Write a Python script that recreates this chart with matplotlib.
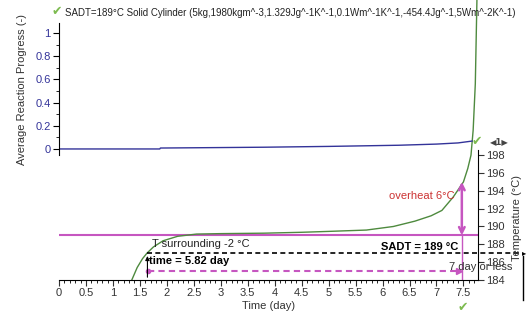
import matplotlib
matplotlib.use('Agg')
import matplotlib.pyplot as plt
from matplotlib.ticker import MultipleLocator
from matplotlib.lines import Line2D

plt.rcParams['font.family'] = ['Liberation Sans', 'DejaVu Sans']

# temperature curve (day, degC)
time_temp = [1.35, 1.45, 1.55, 1.63, 1.75, 1.93, 2.2, 2.55, 3.0, 3.8, 4.5, 5.0, 5.7,
             6.2, 6.6, 6.9, 7.1, 7.31, 7.5, 7.58, 7.64, 7.68, 7.72, 7.75]
temp = [184, 185.4, 186.4, 187.0, 187.7, 188.4, 188.9, 189.15, 189.2, 189.25, 189.35,
        189.45, 189.6, 190.0, 190.6, 191.2, 191.8, 193.3, 195.0, 196.5, 198, 200.8, 206, 215.4]

# average reaction progress (day, -)
time_prog = [0, 1.87, 1.88, 3.8, 5.0, 6.3, 7.0, 7.4, 7.66]
progress = [0, 0, 0.008, 0.015, 0.022, 0.032, 0.042, 0.052, 0.068]

sadt = 189
t_surround = 187
t_low = 185
t_start = 1.64
t_end = 7.47
overheat_top = 195

green = '#4e8a3e'
blue = '#333399'
pink = '#c656c0'
check = '#7dbb50'

fig = plt.figure(figsize=(5.3, 3.14), dpi=100)
ax_t = fig.add_axes([0.1113, 0.1083, 0.7906, 0.8917])
ax_p = fig.add_axes([0.1113, 0.5064, 0.7906, 0.4204])
for a in (ax_t, ax_p):
    a.patch.set_alpha(0)
    a.set_xlim(0, 7.77)

# temperature axes
ax_t.set_ylim(184, 215.4)
ax_t.spines['left'].set_visible(False)
ax_t.spines['top'].set_visible(False)
ax_t.spines['right'].set_bounds(184, 198.6)
ax_t.yaxis.tick_right()
ax_t.set_yticks(range(184, 199, 2))
ax_t.xaxis.set_minor_locator(MultipleLocator(0.1))
ax_t.set_xticks([i * 0.5 for i in range(16)])
ax_t.set_xticklabels(['0', '0.5', '1', '1.5', '2', '2.5', '3', '3.5', '4', '4.5',
                      '5', '5.5', '6', '6.5', '7', '7.5'])
ax_t.tick_params(axis='both', labelsize=8, length=4, width=0.8, colors='#333333', pad=2)
ax_t.tick_params(axis='x', which='minor', length=2.5, width=0.6)
ax_t.set_xlabel('Time (day)', fontsize=8, color='#333333', labelpad=2)

ax_t.axhline(sadt, color=pink, lw=1.5)
ax_t.plot(time_temp, temp, color=green, lw=1)

ax_t.plot([t_start, 8.55], [t_surround, t_surround], color='k', lw=1.2,
          ls=(0, (3, 2)), clip_on=False)
ax_t.annotate('', xy=(t_start, t_surround), xytext=(t_start, 184),
              arrowprops=dict(arrowstyle='-|>', color='k', lw=0.8, mutation_scale=6))
ax_t.plot([t_start + 0.01, t_end - 0.05], [t_low, t_low], color=pink, lw=1.5, ls=(0, (3, 2)))
ax_t.plot([t_start + 0.01], [t_low], marker='o', ms=3, color=pink)
ax_t.plot([t_end - 0.05], [t_low], marker='>', ms=4, color=pink)
ax_t.plot([t_end, t_end], [184, sadt], color=pink, lw=1)
ax_t.annotate('', xy=(t_end, overheat_top), xytext=(t_end, sadt),
              arrowprops=dict(arrowstyle='<->', color=pink, lw=1.8, mutation_scale=10,
                              shrinkA=0, shrinkB=0))

ax_t.text(1.73, 188.0, 'T surrounding -2 °C', fontsize=8, va='center', color='#222222')
ax_t.text(1.66, 186.1, 'time = 5.82 day', fontsize=8, va='center', fontweight='bold')
ax_t.text(7.33, 193.4, 'overheat 6°C', fontsize=8, va='center', ha='right', color='#cc3333')
ax_t.text(7.4, 187.75, 'SADT = 189 °C', fontsize=8, va='center', ha='right', fontweight='bold')
ax_t.text(7.24, 185.5, '7 day or less', fontsize=8, va='center', color='#333333')

# reaction progress axes
ax_p.set_ylim(-0.052, 1.086)
for s in ('top', 'right', 'bottom'):
    ax_p.spines[s].set_visible(False)
ax_p.set_xticks([])
ax_p.set_yticks([0, 0.2, 0.4, 0.6, 0.8, 1])
ax_p.set_yticklabels(['0', '0.2', '0.4', '0.6', '0.8', '1'])
ax_p.yaxis.set_minor_locator(MultipleLocator(0.1))
ax_p.tick_params(axis='y', labelsize=8, length=4, width=0.8, labelcolor=blue, pad=2)
ax_p.tick_params(axis='y', which='minor', length=2.5, width=0.6)
ax_p.plot(time_prog, progress, color=blue, lw=1)

fig.text(0.548, 0.959, 'SADT=189°C Solid Cylinder (5kg,1980kgm^-3,1.329Jg^-1K^-1,0.1Wm^-1K^-1,'
         '-454.4Jg^-1,5Wm^-2K^-1)', fontsize=7, ha='center', va='center', color='#222222')
fig.text(22 / 530, 1 - 90 / 314, 'Average Reaction Progress (-)', rotation=90, fontsize=8,
         ha='center', va='center', color='#333333')
fig.text(517 / 530, 1 - 218 / 314, 'Temperature (°C)', rotation=90, fontsize=8,
         ha='center', va='center', color='#333333')

for cx, cy in [(57, 12), (477, 141), (463, 307)]:
    fig.text(cx / 530, 1 - cy / 314, '✔', color=check, fontsize=9, ha='center', va='center',
             family='DejaVu Sans')
fig.text(499 / 530, 1 - 142 / 314, '◀1▶', fontsize=6, fontweight='bold', ha='center',
         va='center', color='#444444', family='DejaVu Sans')

fig.add_artist(Line2D([523 / 530, 523 / 530], [1 - 256 / 314, 1 - 300 / 314], color='k', lw=1))
fig.text(524 / 530, 1 - 253 / 314, '▸', fontsize=6, ha='center', va='center',
         family='DejaVu Sans')

fig.savefig('out.png', dpi=100)
